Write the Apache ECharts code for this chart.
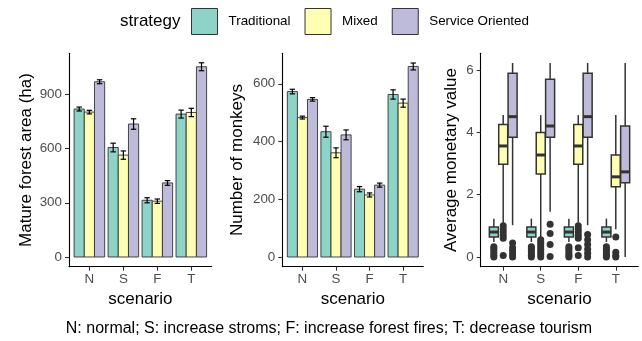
<!DOCTYPE html>
<html><head><meta charset="utf-8">
<script src="https://cdn.jsdelivr.net/npm/echarts@6/dist/echarts.min.js"></script>
<style>html,body{margin:0;padding:0;background:#fff}#c{width:642px;height:341px}</style>
</head><body><div id="c"></div><script>
// ---------- data ----------
const scenarios = ['N', 'S', 'F', 'T'];
const strategies = ['Traditional', 'Mixed', 'Service Oriented'];
const fills = ['#8DD3C7', '#FFFFB3', '#BEBADA'];
const caption = 'N: normal; S: increase stroms; F: increase forest fires; T: decrease tourism';

// Mature forest area (ha): mean and error
const forestTraditional = [819, 606, 314, 791];
const forestMixed = [802, 564, 309, 800];
const forestService = [970, 736, 410, 1053];
const forestErrTraditional = [11, 24, 14, 22];
const forestErrMixed = [10, 23, 12, 23];
const forestErrService = [11, 29, 13, 22];
const forestTicks = [0, 300, 600, 900];

// Number of monkeys: mean and error
const monkeysTraditional = [573, 434, 235, 563];
const monkeysMixed = [483, 361, 215, 533];
const monkeysService = [546, 423, 249, 660];
const monkeysErrTraditional = [8, 19, 9, 16];
const monkeysErrMixed = [5, 17, 7, 14];
const monkeysErrService = [6, 17, 7, 12];
const monkeysTicks = [0, 200, 400, 600];

// Average monetary value: box stats [lower whisker, Q1, median, Q3, upper whisker]
const valueTraditional = [[0.48, 0.64, 0.80, 0.96, 1.23], [0.48, 0.64, 0.80, 0.96, 1.23], [0.48, 0.64, 0.80, 0.96, 1.23], [0.48, 0.64, 0.80, 0.96, 1.23]];
const valueMixed = [[1.10, 2.97, 3.56, 4.25, 4.55], [0.62, 2.66, 3.27, 3.99, 4.55], [1.10, 2.97, 3.56, 4.25, 4.55], [0.89, 2.25, 2.57, 3.27, 4.55]];
const valueService = [[1.02, 3.84, 4.50, 5.89, 6.22], [1.45, 3.84, 4.20, 5.70, 6.22], [1.02, 3.84, 4.50, 5.89, 6.22], [0.00, 2.38, 2.73, 4.20, 6.22]];
const outliersTraditional = [[0, 0.06, 0.13, 0.2, 0.27, 0.33], [0, 0.06, 0.13, 0.2, 0.27, 0.33], [0, 0.06, 0.13, 0.2, 0.27, 0.33], [0, 0.06, 0.13, 0.2, 0.27, 0.33]];
const outliersMixed = [[0.6, 0.7, 0.8, 0.9, 1.0, 0.05], [0, 0.08, 0.16, 0.24, 0.32, 0.4, 0.48, 0.55], [0.6, 0.7, 0.8, 0.9, 1.0, 0.3, 0.05], [0.64, 0.15, 0.05, 0]];
const outliersService = [[0, 0.1, 0.2, 0.3, 0.45], [1.05, 0.75, 0.4, 0.02], [0, 0.12, 0.25, 0.4, 0.55, 0.72], []];
const valueTicks = [0, 2, 4, 6];

// ---------- helpers ----------
const FONT = 'Liberation Sans, Arial, sans-serif';
const grids = [
  { left: 69, top: 53.3, width: 142.7, height: 213.4 },
  { left: 282.3, top: 53.3, width: 141, height: 213.4 },
  { left: 480.7, top: 53.3, width: 157.6, height: 213.4 }
];

function xAxisFor(gi) {
  return {
    type: 'value', gridIndex: gi, min: 0.4, max: 4.6,
    name: 'scenario', nameLocation: 'middle', nameGap: 24,
    nameTextStyle: { fontSize: 17, color: '#000', fontFamily: FONT },
    axisLine: { show: true, onZero: false, lineStyle: { color: '#000', width: 1.1 } },
    axisTick: { show: true, length: 4, customValues: [1, 2, 3, 4], lineStyle: { color: '#333', width: 1.1 } },
    axisLabel: { customValues: [1, 2, 3, 4], formatter: v => scenarios[Math.round(v) - 1], color: '#4d4d4d', fontSize: 13.4, margin: 6, fontFamily: FONT },
    splitLine: { show: false }
  };
}
function yAxisFor(gi, min, max, ticks, name, gap) {
  return {
    type: 'value', gridIndex: gi, min, max,
    name, nameLocation: 'middle', nameGap: gap,
    nameTextStyle: { fontSize: 17, color: '#000', fontFamily: FONT },
    axisLine: { show: true, onZero: false, lineStyle: { color: '#000', width: 1.1 } },
    axisTick: { show: true, length: 4, customValues: ticks, lineStyle: { color: '#333', width: 1.1 } },
    axisLabel: { customValues: ticks, color: '#4d4d4d', fontSize: 13.4, margin: 7, fontFamily: FONT },
    splitLine: { show: false }
  };
}
function barSeries(gi, k, vals) {
  return {
    type: 'custom', name: strategies[k], xAxisIndex: gi, yAxisIndex: gi,
    itemStyle: { color: fills[k] },
    encode: { x: 0, y: 1 },
    data: vals.map((v, i) => [i + 1, v]),
    renderItem: (params, api) => {
      const x = api.value(0) + (k - 1) * 0.3;
      const p0 = api.coord([x - 0.15, 0]);
      const p1 = api.coord([x + 0.15, api.value(1)]);
      return { type: 'rect', shape: { x: p0[0], y: p1[1], width: p1[0] - p0[0], height: p0[1] - p1[1] },
        style: { fill: api.visual('color'), stroke: '#333', lineWidth: 0.9 } };
    }
  };
}
function errSeries(gi, k, vals, errs) {
  return {
    type: 'custom', name: 'err' + gi + k, xAxisIndex: gi, yAxisIndex: gi,
    encode: { x: 0, y: 1 },
    data: vals.map((v, i) => [i + 1, v, errs[i]]),
    renderItem: (params, api) => {
      const x = api.value(0) + (k - 1) * 0.3;
      const v = api.value(1), e = api.value(2);
      const t = api.coord([x, v + e]), b = api.coord([x, v - e]);
      const tl = api.coord([x - 0.08, v + e]), tr = api.coord([x + 0.08, v + e]);
      const bl = api.coord([x - 0.08, v - e]), br = api.coord([x + 0.08, v - e]);
      const st = { stroke: '#000', lineWidth: 1.2 };
      return { type: 'group', children: [
        { type: 'line', shape: { x1: t[0], y1: t[1], x2: b[0], y2: b[1] }, style: st },
        { type: 'line', shape: { x1: tl[0], y1: tl[1], x2: tr[0], y2: tr[1] }, style: st },
        { type: 'line', shape: { x1: bl[0], y1: bl[1], x2: br[0], y2: br[1] }, style: st }
      ] };
    }
  };
}
function boxSeries(gi, k, stats) {
  const w = 0.24;
  return {
    type: 'custom', name: strategies[k], xAxisIndex: gi, yAxisIndex: gi,
    itemStyle: { color: fills[k] },
    encode: { x: 0, y: [1, 2, 3, 4, 5] },
    data: stats.map((s, i) => [i + 1].concat(s)),
    renderItem: (params, api) => {
      const x = api.value(0) + (k - 1) * 0.25;
      const lo = api.value(1), q1 = api.value(2), md = api.value(3), q3 = api.value(4), hi = api.value(5);
      const tl = api.coord([x - w / 2, q3]), br = api.coord([x + w / 2, q1]);
      const top = api.coord([x, hi]), bot = api.coord([x, lo]);
      const ml = api.coord([x - w / 2, md]), mr = api.coord([x + w / 2, md]);
      const st = { stroke: '#333', lineWidth: 1.5 };
      return { type: 'group', children: [
        { type: 'line', shape: { x1: top[0], y1: top[1], x2: top[0], y2: tl[1] }, style: st },
        { type: 'line', shape: { x1: bot[0], y1: br[1], x2: bot[0], y2: bot[1] }, style: st },
        { type: 'rect', shape: { x: tl[0], y: tl[1], width: br[0] - tl[0], height: br[1] - tl[1] }, style: { fill: api.visual('color'), stroke: '#333', lineWidth: 1.5 } },
        { type: 'line', shape: { x1: ml[0], y1: ml[1], x2: mr[0], y2: mr[1] }, style: { stroke: '#333', lineWidth: 3 } }
      ] };
    }
  };
}
function outlierSeries(gi, k, lists) {
  const data = [];
  lists.forEach((arr, i) => arr.forEach(v => data.push([i + 1 + (k - 1) * 0.25, v])));
  return { type: 'scatter', name: 'out' + k, xAxisIndex: gi, yAxisIndex: gi, data,
    symbolSize: 7, itemStyle: { color: '#333', opacity: 1 }, z: 3 };
}

const series = [
  barSeries(0, 0, forestTraditional), barSeries(0, 1, forestMixed), barSeries(0, 2, forestService),
  errSeries(0, 0, forestTraditional, forestErrTraditional), errSeries(0, 1, forestMixed, forestErrMixed), errSeries(0, 2, forestService, forestErrService),
  barSeries(1, 0, monkeysTraditional), barSeries(1, 1, monkeysMixed), barSeries(1, 2, monkeysService),
  errSeries(1, 0, monkeysTraditional, monkeysErrTraditional), errSeries(1, 1, monkeysMixed, monkeysErrMixed), errSeries(1, 2, monkeysService, monkeysErrService),
  boxSeries(2, 0, valueTraditional), boxSeries(2, 1, valueMixed), boxSeries(2, 2, valueService),
  outlierSeries(2, 0, outliersTraditional), outlierSeries(2, 1, outliersMixed), outlierSeries(2, 2, outliersService)
];

const chart = echarts.init(document.getElementById('c'), null, { renderer: 'canvas' });
chart.setOption({
  animation: false,
  backgroundColor: '#fff',
  textStyle: { fontFamily: FONT },
  grid: grids,
  xAxis: [xAxisFor(0), xAxisFor(1), xAxisFor(2)],
  yAxis: [
    yAxisFor(0, -53.7, 1127.5, forestTicks, 'Mature forest area (ha)', 34.5),
    yAxisFor(1, -33.6, 705.6, monkeysTicks, 'Number of monkeys', 36.8),
    yAxisFor(2, -0.311, 6.531, valueTicks, 'Average monetary value', 21.2)
  ],
  legend: {
    data: strategies, left: 191, top: 8, padding: 0, icon: 'rect',
    itemWidth: 26, itemHeight: 26, itemGap: 14, selectedMode: false,
    itemStyle: { borderColor: '#333', borderWidth: 1 },
    textStyle: { fontSize: 13.4, color: '#000', fontFamily: FONT, padding: [0, 0, 0, 6] }
  },
  graphic: [
    { type: 'text', x: 120, y: 21.7, style: { text: 'strategy', fontSize: 17, fill: '#000', fontFamily: FONT, textAlign: 'left', textVerticalAlign: 'middle' } },
    { type: 'text', x: 329, y: 329, style: { text: caption, fontSize: 16, fill: '#000', fontFamily: FONT, textAlign: 'center', textVerticalAlign: 'middle' } }
  ],
  series
});
</script></body></html>
